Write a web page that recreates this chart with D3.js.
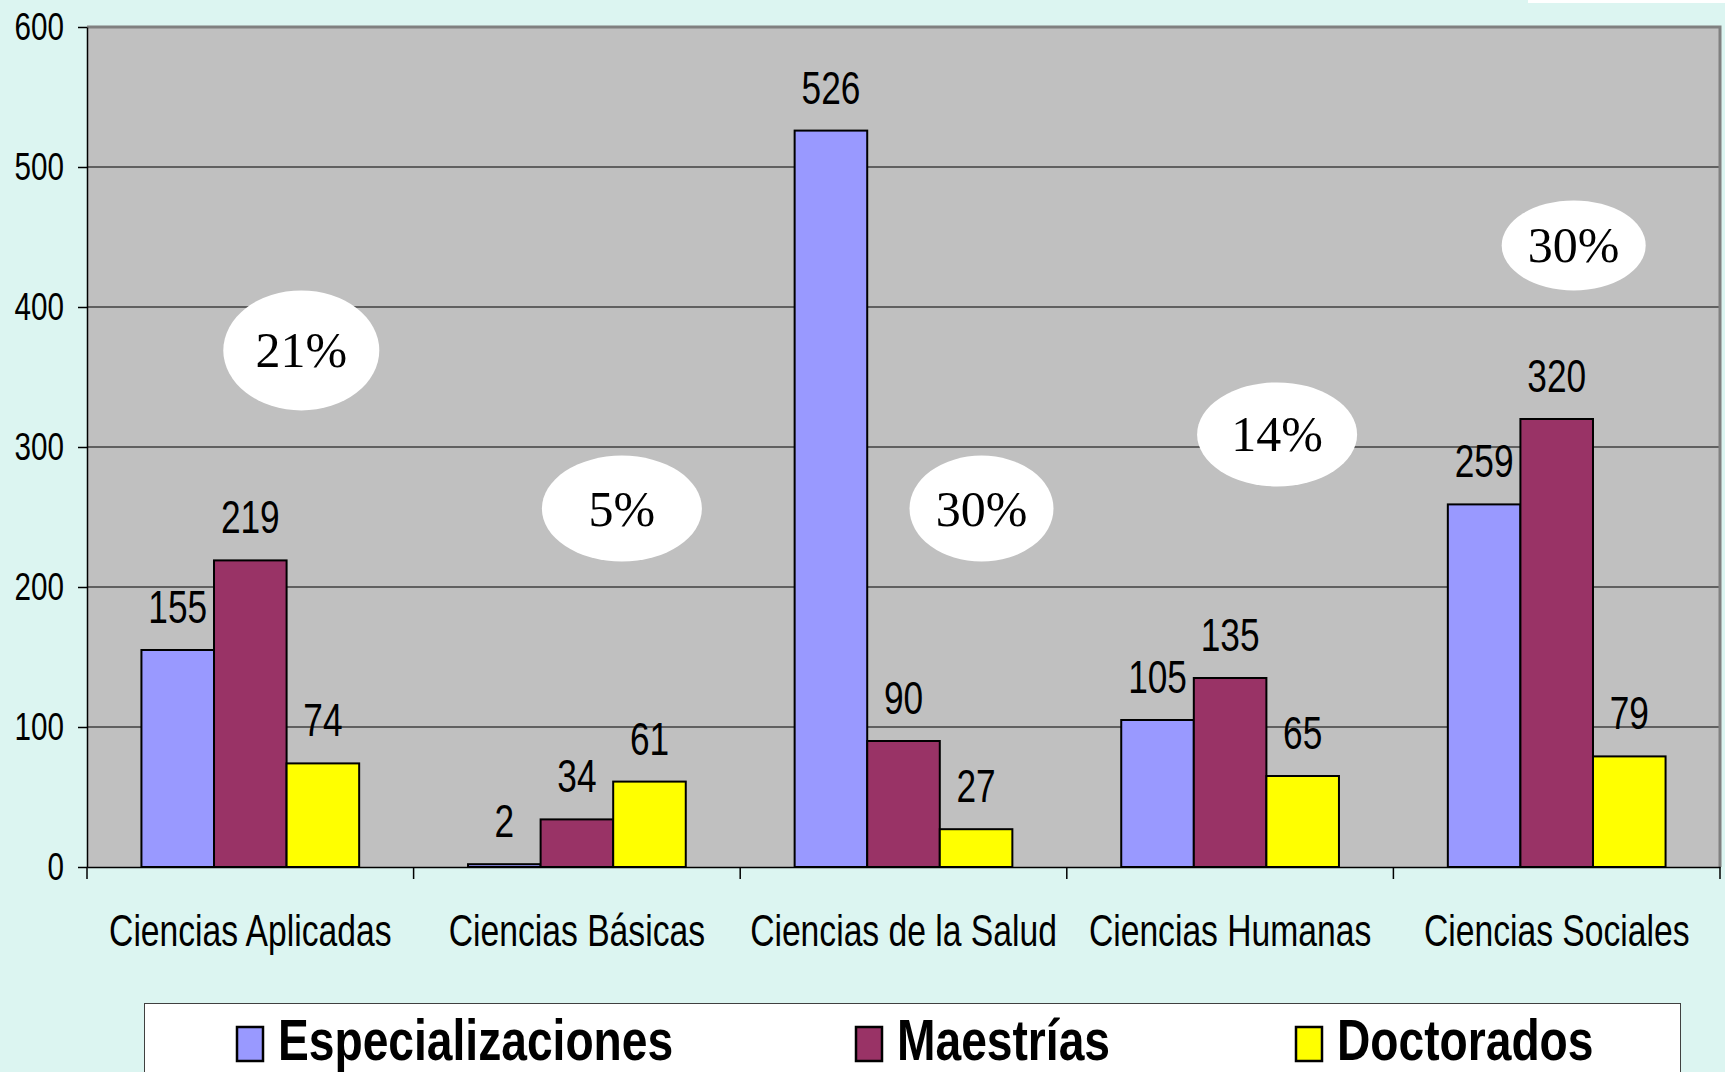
<!DOCTYPE html>
<html><head><meta charset="utf-8">
<script src="https://cdn.jsdelivr.net/npm/d3@7"></script>
<style>
html,body{margin:0;padding:0;background:#DCF5F1;}
svg{display:block;}
</style></head>
<body>
<script>
const categories = ["Ciencias Aplicadas","Ciencias Básicas","Ciencias de la Salud","Ciencias Humanas","Ciencias Sociales"];
const seriesNames = ["Especializaciones","Maestrías","Doctorados"];
const especializaciones = [155, 2, 526, 105, 259];
const maestrias = [219, 34, 90, 135, 320];
const doctorados = [74, 61, 27, 65, 79];
const yTicks = [0,100,200,300,400,500,600];
const percentLabels = ["21%","5%","30%","14%","30%"];
// annotation placement (data units for y, pixel offset from band centre for x)
const pctYValue = [369, 256, 256, 309, 444];
const pctDx = [51, 45, 78, 47, 17];
const pctR = [[78,60],[80,53],[72,53],[80,52],[72,45]];

const colors = ["#9999FF","#993366","#FFFF00"];
const series = [especializaciones, maestrias, doctorados];

const W = 1725, H = 1072;
const m = {left:87, right:5, top:27, bottom:205};
const svg = d3.select("body").append("svg").attr("width",W).attr("height",H);
svg.append("rect").attr("width",W).attr("height",H).attr("fill","#DCF5F1");
svg.append("rect").attr("x",1528).attr("y",0).attr("width",197).attr("height",3).attr("fill","#fff");

const x = d3.scaleBand().domain(categories).range([m.left, W-m.right]).paddingInner(0).paddingOuter(0);
const y = d3.scaleLinear().domain([0,600]).range([H-m.bottom, m.top]);
const xs = d3.scaleBand().domain(seriesNames).range([0, x.bandwidth()]).paddingInner(0).paddingOuter(0.75);

const font = "'Liberation Sans',Arial,sans-serif";
function narrow(sel, sx){
  sel.each(function(){
    const t = d3.select(this);
    const tx = +t.attr("x")||0, ty = +t.attr("y")||0;
    t.attr("x",0).attr("y",0).attr("transform",`translate(${tx},${ty}) scale(${sx},1)`);
  });
}

// plot area
svg.append("rect").attr("x",m.left).attr("y",m.top).attr("width",W-m.right-m.left).attr("height",y(0)-m.top).attr("fill","#C0C0C0");
// gridlines
svg.append("g").selectAll("line").data(yTicks.filter(d=>d>0 && d<600)).join("line")
  .attr("x1",m.left).attr("x2",W-m.right).attr("y1",d=>y(d)).attr("y2",d=>y(d))
  .attr("stroke","#000").attr("stroke-width",1.2);
// border top/right
svg.append("path").attr("d",`M${m.left},${y(600)}H${W-m.right}V${y(0)}`).attr("fill","none").attr("stroke","#808080").attr("stroke-width",3);

// percentage ellipses
const ann = svg.append("g");
percentLabels.forEach((p,i)=>{
  const cx = x(categories[i]) + x.bandwidth()/2 + pctDx[i];
  const cy = y(pctYValue[i]);
  ann.append("ellipse").attr("cx",cx).attr("cy",cy).attr("rx",pctR[i][0]).attr("ry",pctR[i][1]).attr("fill","#fff");
  ann.append("text").attr("x",cx).attr("y",cy+17).attr("text-anchor","middle")
    .attr("font-family","'Liberation Serif','Times New Roman',serif").attr("font-size",50).attr("fill","#000").text(p);
});

// bars
const gBars = svg.append("g");
categories.forEach((c,i)=>{
  series.forEach((s,j)=>{
    const bx = x(c) + xs(seriesNames[j]);
    gBars.append("rect").attr("x",bx).attr("y",y(s[i])).attr("width",xs.bandwidth()).attr("height",y(0)-y(s[i]))
      .attr("fill",colors[j]).attr("stroke","#000").attr("stroke-width",2);
    gBars.append("text").attr("class","dl").attr("x",bx+xs.bandwidth()/2).attr("y",y(s[i])-27).attr("text-anchor","middle")
      .attr("font-family",font).attr("font-size",47).attr("fill","#000").text(s[i]);
  });
});
narrow(gBars.selectAll("text.dl"), 0.75);

// y axis
const yAxis = svg.append("g").attr("transform",`translate(${m.left},0)`)
  .call(d3.axisLeft(y).tickValues(yTicks).tickSize(9).tickPadding(14).tickSizeOuter(0));
yAxis.select(".domain").attr("stroke","#000").attr("stroke-width",1.5);
yAxis.selectAll(".tick line").attr("stroke","#000").attr("stroke-width",1.5);
yAxis.selectAll(".tick text").attr("font-family",font).attr("font-size",38).attr("fill","#000");
narrow(yAxis.selectAll(".tick text"), 0.78);

// x axis
const xAxis = svg.append("g").attr("transform",`translate(0,${y(0)})`)
  .call(d3.axisBottom(x).tickSize(0).tickPadding(48).tickSizeOuter(0));
xAxis.select(".domain").attr("stroke","#000").attr("stroke-width",1.5);
xAxis.selectAll(".tick text").attr("font-family",font).attr("font-size",44).attr("fill","#000");
narrow(xAxis.selectAll(".tick text"), 0.765);
const bounds = categories.map(c=>x(c)).concat([W-m.right]);
svg.append("g").selectAll("line").data(bounds).join("line")
  .attr("x1",d=>d).attr("x2",d=>d).attr("y1",y(0)).attr("y2",y(0)+12)
  .attr("stroke","#000").attr("stroke-width",1.5);

// legend
const lg = svg.append("g");
lg.append("rect").attr("x",144.5).attr("y",1003.5).attr("width",1536).attr("height",80).attr("fill","#fff").attr("stroke","#404040").attr("stroke-width",1);
const legX = [237, 856, 1296];
seriesNames.forEach((n,j)=>{
  lg.append("rect").attr("x",legX[j]).attr("y",1027).attr("width",26).attr("height",34).attr("fill",colors[j]).attr("stroke","#000").attr("stroke-width",2.5);
  lg.append("text").attr("class","lt").attr("x",legX[j]+41).attr("y",1060).attr("font-family",font).attr("font-weight","bold")
    .attr("font-size",57).attr("fill","#000").text(n);
});
narrow(lg.selectAll("text.lt"), 0.81);
</script>
</body></html>
